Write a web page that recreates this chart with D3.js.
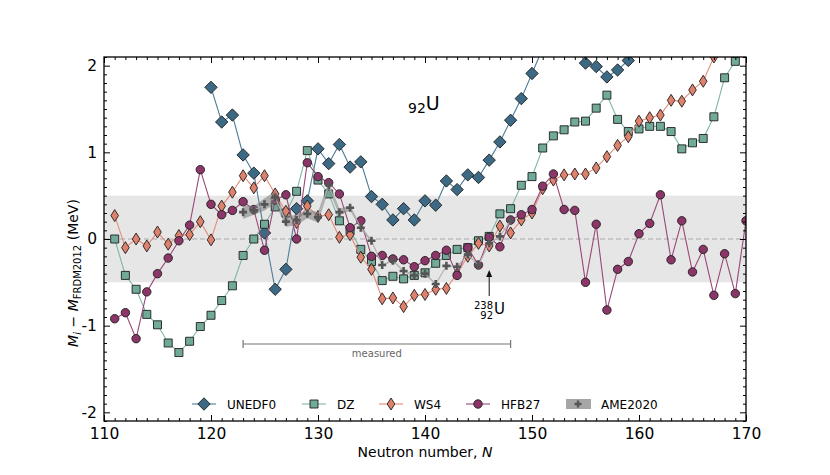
<!DOCTYPE html>
<html>
<head>
<meta charset="utf-8">
<script src="https://cdn.jsdelivr.net/npm/d3@7"></script>
<style>
  body { margin: 0; background: #fff; }
  text { font-family: "DejaVu Sans", sans-serif; }
</style>
</head>
<body>
<svg id="chart" width="830" height="475"></svg>
<script>
// neutron numbers for each model
const nUNEDF0 = d3.range(120, 161);
const nDZ = d3.range(111, 171);
const nWS4 = d3.range(111, 171);
const nHFB27 = d3.range(111, 171);
const nAME = d3.range(123, 149);

// M_i - M_FRDM2012 in MeV
const unedf0 = [1.75, 1.35, 1.43, 0.97, 0.76, 0.07, -0.58, -0.35, 0.35, 0.44,
  1.04, 0.87, 1.09, 0.83, 0.89, 0.49, 0.40, 0.22, 0.35, 0.22,
  0.44, 0.39, 0.67, 0.57, 0.74, 0.71, 0.91, 1.12, 1.37, 1.62,
  1.91, 2.2, 2.4, 2.4, 2.25, 2.03, 1.99, 1.87, 1.95, 2.06, 2.2];

const dz = [0.00, -0.42, -0.58, -0.87, -0.99, -1.20, -1.31, -1.18, -1.01,
  -0.88, -0.71, -0.54, -0.19, 0.00, 0.17, 0.37, 0.30, 0.55, 1.02,
  0.68, 0.52, 0.21, 0.10, -0.12, -0.26, -0.48, -0.43, -0.46, -0.42,
  -0.39, -0.28, -0.19, -0.12, -0.10, -0.02, 0.03, 0.29, 0.35, 0.62,
  0.72, 1.05, 1.19, 1.26, 1.35, 1.36, 1.51, 1.66, 1.38, 1.24,
  1.27, 1.30, 1.30, 1.24, 1.04, 1.11, 1.16, 1.41, 1.86, 2.05, 2.3];

const ws4 = [0.27, -0.10, 0.00, -0.08, 0.08, -0.06, 0.04, 0.05, 0.20,
  -0.01, 0.38, 0.54, 0.73, 0.59, 0.73, 0.52, 0.32, 0.19, 0.38,
  0.26, 0.28, 0.02, 0.05, -0.21, -0.35, -0.69, -0.68, -0.78, -0.65,
  -0.64, -0.58, -0.57, -0.40, -0.20, -0.05, -0.08, 0.15, 0.07, 0.22,
  0.30, 0.58, 0.68, 0.74, 0.75, 0.75, 0.82, 0.95, 1.08, 1.18,
  1.36, 1.40, 1.43, 1.60, 1.59, 1.72, 1.82, 2.10, 2.35, 2.5, 2.6];

const hfb27 = [-0.92, -0.85, -1.15, -0.61, -0.40, -0.22, -0.02, 0.16, 0.80,
  0.40, 0.28, 0.33, 0.43, 0.34, -0.13, 0.45, 0.51, 0.00, 0.88,
  0.72, 0.65, 0.52, 0.13, 0.21, -0.20, -0.19, -0.23, -0.24, -0.32,
  -0.25, -0.19, -0.13, -0.42, -0.10, -0.30, 0.02, -0.09, 0.22, 0.28,
  0.34, 0.61, 0.75, 0.34, 0.33, -0.50, 0.17, -0.82, -0.35, -0.26,
  0.06, 0.18, 0.51, -0.24, 0.21, -0.38, -0.12, -0.65, -0.17, -0.63, 0.21];

const ame2020 = [0.31, 0.33, 0.40, 0.48, 0.20, 0.22, 0.29, 0.25, 0.62, 0.31,
  0.36, 0.13, -0.02, -0.30, -0.25, -0.37, -0.42, -0.40, -0.52, -0.31,
  -0.32, -0.18, -0.30, -0.05, 0.03, 0.21];
const ameErr = [0.08, 0.05, 0.07, 0.07, 0.06, 0.06, 0.05, 0.06, 0.05, 0.04,
  0.03, 0.02, 0.015, 0.01, 0.01, 0.01, 0.01, 0.01, 0.01, 0.01,
  0.01, 0.01, 0.01, 0.01, 0.01, 0.01];

const xTicks = [110, 120, 130, 140, 150, 160, 170];
const yTicks = [-2, -1, 0, 1, 2];
const measuredRange = [123, 148];

const svg = d3.select("#chart");
const plot = { l: 104, r: 746, t: 57, b: 421 };

const xScale = d3.scaleLinear().domain([110, 170]).range([plot.l, plot.r]);
const yScale = d3.scaleLinear().domain([-2.1, 2.1]).range([plot.b, plot.t]);

svg
  .append("defs")
  .append("clipPath")
  .attr("id", "clip")
  .append("rect")
  .attr("x", plot.l)
  .attr("y", plot.t)
  .attr("width", plot.r - plot.l)
  .attr("height", plot.b - plot.t);

const g = svg.append("g").attr("clip-path", "url(#clip)");

// +-0.5 MeV band
g.append("rect")
  .attr("x", plot.l)
  .attr("width", plot.r - plot.l)
  .attr("y", yScale(0.5))
  .attr("height", yScale(-0.5) - yScale(0.5))
  .attr("fill", "#e6e6e6");

g.append("line")
  .attr("x1", plot.l)
  .attr("x2", plot.r)
  .attr("y1", yScale(0))
  .attr("y2", yScale(0))
  .attr("stroke", "#a8a8a8")
  .attr("stroke-width", 1.2)
  .attr("stroke-dasharray", "5,3");

const series = [
  { name: "UNEDF0", n: nUNEDF0, v: unedf0, fill: "#3c6a85", line: "#4d7c97", shape: "bigDiamond" },
  { name: "DZ", n: nDZ, v: dz, fill: "#72aa99", line: "#80b6a6", shape: "square" },
  { name: "WS4", n: nWS4, v: ws4, fill: "#de826d", line: "#e48d7a", shape: "thinDiamond" },
  { name: "HFB27", n: nHFB27, v: hfb27, fill: "#8b3568", line: "#9a4878", shape: "circle" },
];

function markerPath(shape) {
  if (shape === "bigDiamond") return "M0,-6.2L6.2,0L0,6.2L-6.2,0Z";
  if (shape === "thinDiamond") return "M0,-6L3.8,0L0,6L-3.8,0Z";
  if (shape === "square") return "M-4,-4H4V4H-4Z";
  return d3.symbol(d3.symbolCircle, 56)();
}

const line = d3
  .line()
  .x((d) => xScale(d.n))
  .y((d) => yScale(d.v));

series.forEach((s) => {
  const data = s.n.map((n, i) => ({ n: n, v: s.v[i] }));
  g.append("path")
    .datum(data)
    .attr("d", line)
    .attr("fill", "none")
    .attr("stroke", s.line)
    .attr("stroke-width", 1.1);
  g.selectAll(".m-" + s.name)
    .data(data)
    .join("path")
    .attr("class", "m-" + s.name)
    .attr("transform", (d) => `translate(${xScale(d.n)},${yScale(d.v)})`)
    .attr("d", markerPath(s.shape))
    .attr("fill", s.fill)
    .attr("stroke", "#1e1e1e")
    .attr("stroke-width", 0.9);
});

// AME2020 with uncertainty band
const ameData = nAME.map((n, i) => ({ n: n, v: ame2020[i], e: ameErr[i] }));
g.append("path")
  .datum(ameData)
  .attr(
    "d",
    d3
      .area()
      .x((d) => xScale(d.n))
      .y0((d) => yScale(d.v - d.e))
      .y1((d) => yScale(d.v + d.e))
  )
  .attr("fill", "#7a7a7a")
  .attr("opacity", 0.55);
g.append("path")
  .datum(ameData)
  .attr("d", line)
  .attr("fill", "none")
  .attr("stroke", "#b8b8b8")
  .attr("stroke-width", 1);
g.selectAll(".ame")
  .data(ameData)
  .join("path")
  .attr("class", "ame")
  .attr("transform", (d) => `translate(${xScale(d.n)},${yScale(d.v)})`)
  .attr("d", "M-4,0H4M0,-4V4")
  .attr("stroke", "#555")
  .attr("stroke-width", 2.6);

// axes, ticks inward on every side
const minorX = d3.range(110, 171).filter((d) => d % 10 !== 0);
const minorY = d3.range(-21, 22).map((d) => d / 10).filter((d) => Math.abs(d % 1) > 0.01);

function addAxis(axisFn, scale, pos, major, minor, labels) {
  const a = svg.append("g").attr("transform", pos);
  a.call(
    axisFn(scale)
      .tickValues(minor)
      .tickSizeInner(-3)
      .tickSizeOuter(0)
      .tickFormat("")
  );
  a.call((sel) => sel.select(".domain").remove());
  const b = svg.append("g").attr("transform", pos);
  b.call(
    axisFn(scale)
      .tickValues(major)
      .tickSizeInner(-6)
      .tickSizeOuter(0)
      .tickPadding(7)
      .tickFormat(labels ? d3.format("d") : "")
  );
  b.select(".domain").remove();
  b.selectAll("text")
    .attr("font-family", "DejaVu Sans")
    .attr("font-size", 15.5)
    .attr("fill", "#000");
  svg.selectAll(".tick line").attr("stroke", "#000").attr("stroke-width", 1);
  return b;
}

addAxis(d3.axisBottom, xScale, `translate(0,${plot.b})`, xTicks, minorX, true);
addAxis(d3.axisTop, xScale, `translate(0,${plot.t})`, xTicks, minorX, false);
const yAx = addAxis(d3.axisLeft, yScale, `translate(${plot.l},0)`, yTicks, minorY, true);
yAx.selectAll("text").text((d) => (d < 0 ? "-" + Math.abs(d) : d));
addAxis(d3.axisRight, yScale, `translate(${plot.r},0)`, yTicks, minorY, false);

svg
  .append("rect")
  .attr("x", plot.l)
  .attr("y", plot.t)
  .attr("width", plot.r - plot.l)
  .attr("height", plot.b - plot.t)
  .attr("fill", "none")
  .attr("stroke", "#000")
  .attr("stroke-width", 1.3);

// axis labels
const xl = svg
  .append("text")
  .attr("x", (plot.l + plot.r) / 2)
  .attr("y", 457)
  .attr("text-anchor", "middle")
  .attr("font-size", 14);
xl.append("tspan").text("Neutron number, ");
xl.append("tspan").attr("font-style", "italic").text("N");

const yl = svg
  .append("text")
  .attr("transform", "translate(78,273) rotate(-90)")
  .attr("text-anchor", "middle")
  .attr("font-size", 14);
yl.append("tspan").attr("font-style", "italic").text("M");
yl.append("tspan").attr("font-style", "italic").attr("font-size", 10).attr("dy", 3).text("i");
yl.append("tspan").attr("dy", -3).text(" \u2212 ");
yl.append("tspan").attr("font-style", "italic").text("M");
yl.append("tspan").attr("font-size", 10).attr("dy", 3).text("FRDM2012");
yl.append("tspan").attr("dy", -3).text(" (MeV)");

// element label
const el = svg.append("text").attr("x", 408).attr("y", 110);
el.append("tspan").attr("font-size", 14).attr("dy", 2.5).text("92");
el.append("tspan").attr("font-size", 19).attr("dy", -2.5).text("U");

// 238U arrow
const ax = xScale(146);
svg
  .append("line")
  .attr("x1", ax)
  .attr("x2", ax)
  .attr("y1", 296)
  .attr("y2", 275)
  .attr("stroke", "#111")
  .attr("stroke-width", 1);
svg
  .append("path")
  .attr("d", `M${ax},270L${ax - 3},277L${ax + 3},277Z`)
  .attr("fill", "#111");
svg.append("text").attr("x", 493).attr("y", 308.5).attr("text-anchor", "end").attr("font-size", 10).text("238");
svg.append("text").attr("x", 493).attr("y", 318.5).attr("text-anchor", "end").attr("font-size", 10).text("92");
svg.append("text").attr("x", 494).attr("y", 314).attr("font-size", 15).text("U");

// measured range
const my = 344;
const mg = svg.append("g").attr("stroke", "#777").attr("stroke-width", 1.2);
mg.append("line").attr("x1", xScale(measuredRange[0])).attr("x2", xScale(measuredRange[1])).attr("y1", my).attr("y2", my);
measuredRange.forEach((n) => {
  mg.append("line").attr("x1", xScale(n)).attr("x2", xScale(n)).attr("y1", my - 4).attr("y2", my + 4);
});
svg
  .append("text")
  .attr("x", d3.mean(measuredRange.map(xScale)))
  .attr("y", 356.5)
  .attr("text-anchor", "middle")
  .attr("font-size", 10)
  .attr("fill", "#666")
  .text("measured");

// legend
const legendX = [204, 314, 391, 478];
const ly = 404;
series.forEach((s, i) => {
  const lg = svg.append("g").attr("transform", `translate(${legendX[i]},${ly})`);
  lg.append("line").attr("x1", -12).attr("x2", 12).attr("stroke", s.line).attr("stroke-width", 1.1);
  lg.append("path")
    .attr("d", markerPath(s.shape))
    .attr("fill", s.fill)
    .attr("stroke", "#1e1e1e")
    .attr("stroke-width", 0.9);
  lg.append("text").attr("x", 23).attr("y", 4.5).attr("font-size", 12).text(s.name);
});
const al = svg.append("g").attr("transform", `translate(578,${ly})`);
al.append("rect").attr("x", -12).attr("y", -5).attr("width", 25).attr("height", 10).attr("fill", "#a6a6a6");
al.append("path").attr("d", "M-3.5,0H3.5M0,-3.5V3.5").attr("stroke", "#555").attr("stroke-width", 2.4);
al.append("text").attr("x", 23).attr("y", 4.5).attr("font-size", 12).text("AME2020");
</script>
</body>
</html>
